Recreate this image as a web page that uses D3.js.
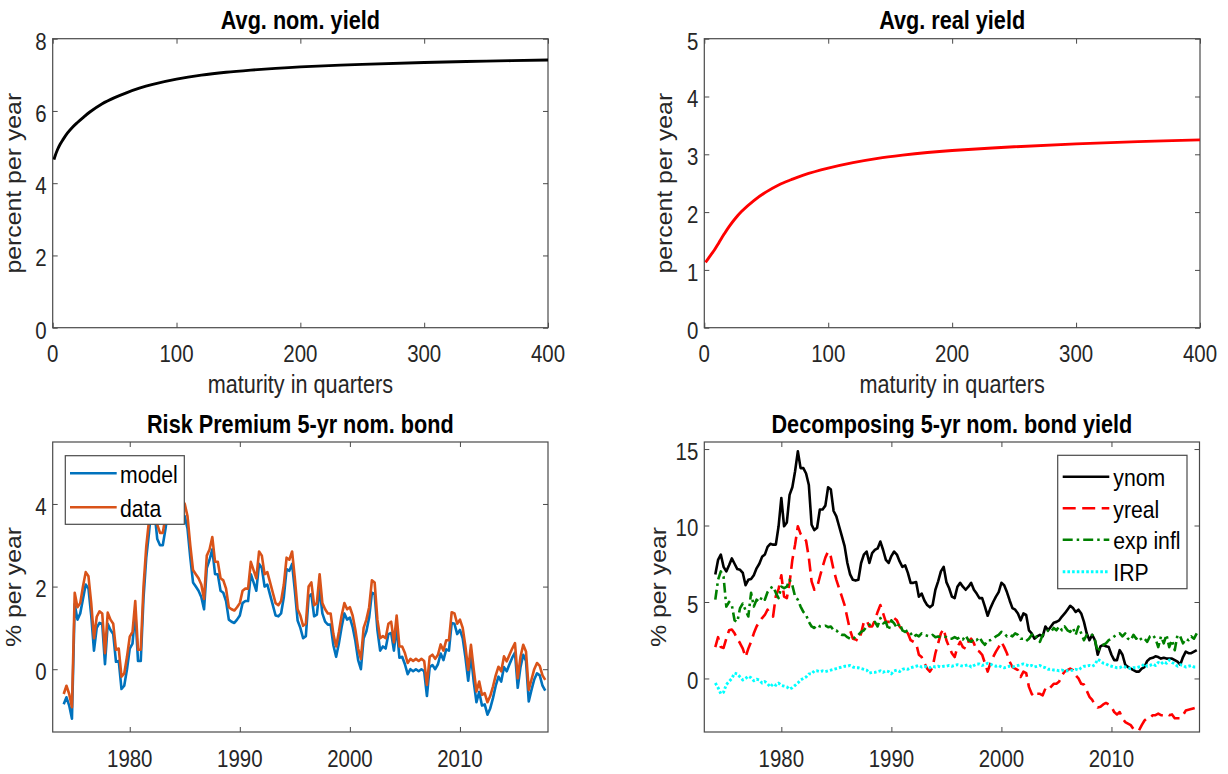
<!DOCTYPE html>
<html><head><meta charset="utf-8">
<script src="https://cdn.jsdelivr.net/npm/d3@7"></script>
<style>body{margin:0;background:#fff}svg{display:block}</style>
</head><body>
<svg id="c" width="1228" height="774"></svg>
<script>
// ---------- DATA ----------
const maturities = [1,2,4,6,8,12,16,20,25,30,40,50,60,70,80,100,120,140,160,180,200,250,300,350,400];
const avgNomYield = [4.65,4.76,4.94,5.08,5.19,5.39,5.55,5.68,5.83,5.97,6.2,6.37,6.51,6.63,6.73,6.88,6.99,7.07,7.13,7.18,7.22,7.29,7.34,7.38,7.41];
const avgRealYield = [1.13,1.16,1.22,1.28,1.34,1.48,1.62,1.75,1.89,2.01,2.2,2.35,2.47,2.56,2.64,2.76,2.855,2.93,2.985,3.03,3.065,3.13,3.18,3.22,3.25];

const startYear = 1974; // quarterly observations
const rpModel = [
-0.85,-0.68,-0.88,-1.2, 1.58,1.2,1.35,1.7, 2.05,1.95,1.3,0.45, 1.0,1.12,1.1,0.12,
1.1,0.95,0.85,0.18, 0.2,-0.48,-0.4,0.0, 0.5,0.62,1.4,0.2, 0.2,1.72,2.7,3.3,
4.0,3.8,3.15,3.0, 3.0,3.4,3.9,4.0, 3.9,3.8,3.8,3.75, 3.7,3.4,2.7,2.1,
2.0,1.9,1.75,1.45, 2.45,2.65,2.9,2.3, 2.3,1.9,1.85,1.65, 1.2,1.15,1.12,1.2,
1.3,1.6,1.65,1.65, 2.3,2.1,1.9,2.55, 2.45,2.0,2.05,1.8, 1.55,1.3,1.28,1.35,
1.75,2.42,2.38,2.55, 1.9,1.18,1.0,0.75, 0.8,1.75,1.82,1.28, 1.32,1.95,1.35,1.15,
1.08,1.08,0.58,0.3, 0.62,1.02,1.35,1.2, 1.25,1.02,0.68,0.22, 0.0,0.75,0.92,1.25,
1.85,1.82,0.95,0.45, 0.55,0.5,0.85,0.88, 0.45,1.02,0.28,0.3, 0.12,-0.12,0.0,-0.05,
0.0,-0.05,0.0,-0.05, -0.65,0.05,0.1,0.0, 0.12,0.38,0.22,0.48, 0.45,1.12,1.1,0.85,
0.95,0.75,0.28,-0.28, 0.35,-0.3,-0.8,-0.55, -0.88,-0.85,-1.1,-0.95, -0.7,-0.4,-0.18,-0.3,
0.05,-0.05,0.12,0.28, 0.4,-0.45,0.05,0.35, 0.2,-0.78,-0.5,-0.25, -0.1,-0.15,-0.4,-0.52];
const rpData = [
-0.6,-0.4,-0.6,-0.92, 1.85,1.5,1.6,2.0, 2.35,2.25,1.6,0.75, 1.27,1.4,1.35,0.39,
1.37,1.2,1.1,0.47, 0.5,-0.18,-0.1,0.3, 0.79,0.9,1.65,0.47, 0.47,2.0,2.97,3.6,
4.3,4.1,3.5,3.3, 3.3,3.7,4.2,4.3, 4.2,4.1,4.15,4.1, 4.0,3.7,3.0,2.4,
2.3,2.2,2.05,1.7, 2.75,2.9,3.2,2.6, 2.6,2.2,2.15,1.95, 1.5,1.45,1.42,1.5,
1.6,1.9,1.95,1.95, 2.6,2.4,2.2,2.85, 2.75,2.3,2.35,2.1, 1.85,1.6,1.55,1.65,
2.05,2.7,2.65,2.85, 2.2,1.45,1.3,1.05, 1.1,2.0,2.1,1.55, 1.6,2.3,1.6,1.45,
1.35,1.35,0.85,0.55, 0.9,1.3,1.6,1.45, 1.5,1.3,0.95,0.5, 0.25,1.0,1.2,1.5,
2.15,2.1,1.2,0.75, 0.8,0.75,1.1,1.15, 0.65,1.3,0.55,0.55, 0.39,0.15,0.25,0.2,
0.25,0.2,0.25,0.2, -0.38,0.3,0.35,0.25, 0.35,0.6,0.45,0.7, 0.7,1.38,1.35,1.1,
1.2,1.0,0.55,-0.02, 0.59,0.0,-0.54,-0.3, -0.62,-0.58,-0.8,-0.65, -0.42,-0.15,0.06,-0.05,
0.31,0.19,0.35,0.5, 0.63,-0.22,0.3,0.59, 0.43,-0.5,-0.25,0.0, 0.15,0.08,-0.15,-0.26];

const ynom = [
6.8,7.75,8.1,7.3, 7.0,7.4,7.85,7.5, 7.15,7.1,6.9,6.1, 6.45,6.5,6.75,7.2,
7.5,7.95,8.1,8.6, 8.8,8.75,8.75,9.95, 11.8,9.95,10.2,12.0, 12.5,13.55,14.85,13.75,
13.75,13.4,12.65,10.05, 9.7,9.85,11.05,11.05, 11.3,12.5,12.35,10.95, 10.6,9.95,9.3,8.65,
7.55,6.8,6.45,6.4, 6.45,7.55,8.1,8.3, 7.55,8.2,8.4,8.5, 8.95,8.4,7.75,7.55,
8.0,8.3,8.1,7.65, 7.3,7.4,6.9,6.25, 6.25,6.3,5.35,5.55, 5.1,4.8,4.65,4.8,
5.8,6.35,7.0,7.3, 6.3,5.9,5.35,5.25, 6.0,6.25,6.0,5.8, 6.0,6.25,5.8,5.55,
5.25,5.25,4.7,4.1, 4.6,5.0,5.35,5.65, 6.25,6.1,5.65,5.1, 4.6,4.5,4.25,3.8,
4.25,4.15,3.15,2.95, 2.6,2.75,2.85,2.75, 3.4,3.15,3.4,3.65, 3.7,3.8,4.05,4.25,
4.5,4.75,4.6,4.35, 4.5,4.25,3.7,2.95, 2.5,2.85,2.5,1.55, 2.1,2.2,2.1,2.05,
1.55,1.2,1.2,1.85, 1.55,0.9,0.75,0.65, 0.55,0.45,0.45,0.65, 0.75,1.15,1.3,1.35,
1.45,1.4,1.3,1.35, 1.3,1.3,1.3,1.2, 1.1,0.9,1.4,1.75, 1.65,1.65,1.75,1.85];
const yreal = [
2.05,2.7,2.05,2.0, 2.6,3.15,3.2,2.95, 2.6,2.3,1.95,1.4, 1.95,2.4,2.95,3.4,
3.7,3.95,4.15,4.5, 4.25,4.05,5.4,5.85, 6.75,5.35,5.25,6.25, 7.75,8.75,9.95,9.45,
9.2,9.0,7.9,6.35, 5.8,5.95,6.65,7.3, 7.9,8.3,7.95,7.1, 6.45,5.9,5.35,4.8,
3.95,3.15,2.6,2.55, 2.45,2.95,3.7,3.8, 3.4,3.4,3.8,4.35, 4.8,4.25,3.7,3.7,
3.7,3.95,3.8,3.4, 3.15,3.15,2.95,2.5, 2.4,2.3,1.55,1.4, 1.0,0.65,0.45,0.75,
1.65,2.3,2.95,3.25, 2.5,2.05,1.65,1.4, 2.05,2.4,2.05,1.95, 2.4,2.6,2.3,1.85,
1.75,1.55,1.0,0.45, 1.0,1.4,1.75,2.05, 2.4,2.05,1.65,1.1, 0.75,0.65,0.55,0.1,
0.45,0.35,-0.55,-1.0, -1.2,-1.0,-1.0,-1.1, -0.65,-0.75,-0.55,-0.35, -0.35,-0.2,0.2,0.45,
0.55,0.65,0.55,0.2, 0.0,-0.35,-0.4,-0.8, -1.2,-1.4,-1.75,-1.9, -1.85,-1.7,-1.6,-1.7,
-1.85,-2.2,-2.35,-2.2, -2.6,-2.85,-2.95,-3.05, -3.3,-3.4,-3.4,-3.05, -2.75,-2.6,-2.6,-2.4,
-2.4,-2.3,-2.4,-2.4, -2.3,-2.4,-2.35,-2.6, -2.6,-2.6,-2.4,-2.1, -2.05,-2.0,-1.95,-1.9];
const expInfl = [
5.15,6.45,7.0,6.65, 4.7,5.0,4.8,3.8, 3.7,4.6,4.9,4.45, 4.05,5.6,4.7,5.15,
5.0,5.35,5.15,5.65, 5.9,6.0,5.6,5.25, 6.0,5.9,6.0,6.45, 6.1,5.35,5.15,4.7,
4.35,4.15,3.7,3.4, 3.3,3.5,3.4,3.4, 3.45,3.35,3.4,3.15, 3.15,2.95,2.85,2.85,
2.7,2.6,2.55,2.75, 2.85,3.05,3.15,3.4, 3.5,3.6,3.7,3.4, 3.95,3.6,3.7,3.15,
3.8,3.6,3.3,3.6, 3.15,3.05,3.15,2.95, 2.7,2.85,2.75,2.95, 2.85,2.8,2.75,2.85,
2.7,2.75,2.7,2.75, 2.7,2.6,2.6,2.7, 2.6,2.7,2.55,2.8, 2.5,2.4,2.6,2.5,
2.7,2.4,2.2,2.5, 2.5,2.6,2.75,2.85, 3.05,2.95,2.75,2.85, 2.75,2.95,2.85,2.6,
2.6,2.45,2.6,2.85, 2.95,2.6,2.4,2.85, 2.95,3.15,3.05,3.3, 3.15,3.4,3.15,3.4,
3.15,3.05,3.3,2.85, 3.4,2.95,2.5,2.85, 2.75,2.85,2.5,1.75, 2.05,2.2,2.3,2.5,
2.6,2.75,2.85,2.95, 2.75,2.95,2.6,2.5, 2.85,2.6,2.75,2.5, 2.6,2.4,2.75,2.85,
2.6,2.05,2.75,2.3, 2.85,2.05,2.5,1.85, 2.85,2.75,2.3,2.6, 2.5,2.75,2.6,2.95];
const irp = [
-0.3,-0.6,-1.0,-0.9, -0.4,-0.2,0.0,0.35, 0.3,0.1,-0.1,0.0, 0.15,0.05,-0.15,-0.05,
-0.1,-0.3,-0.2,-0.35, -0.55,-0.35,-0.45,-0.3, -0.45,-0.5,-0.55,-0.7, -0.6,-0.45,-0.3,-0.1,
0.0,0.1,0.3,0.3, 0.5,0.5,0.45,0.5, 0.45,0.5,0.55,0.6, 0.65,0.7,0.75,0.8,
0.8,0.85,0.75,0.7, 0.7,0.65,0.6,0.55, 0.35,0.4,0.4,0.45, 0.5,0.4,0.5,0.45,
0.3,0.5,0.55,0.45, 0.6,0.65,0.6,0.7, 0.75,0.8,0.85,0.75, 0.8,0.75,0.7,0.8,
0.75,0.8,0.75,0.8, 0.8,0.85,0.8,0.85, 0.9,0.85,0.8,0.85, 0.9,0.75,0.85,0.95,
0.95,0.85,0.9,1.0, 0.95,0.85,0.8,0.85, 0.75,0.7,0.75,0.8, 0.75,0.8,0.85,0.9,
0.95,0.9,0.8,0.85, 0.75,0.8,0.85,0.75, 0.7,0.6,0.6,0.55, 0.55,0.5,0.55,0.5,
0.5,0.5,0.55,0.6, 0.55,0.7,0.8,0.8, 0.85,0.8,0.9,1.25, 1.15,1.0,0.95,0.85,
0.8,0.75,0.7,0.7, 0.8,0.75,0.7,0.65, 0.7,0.7,0.75,0.8, 0.95,0.8,0.85,0.95,
0.85,1.05,0.95,1.1, 1.0,1.2,1.05,0.95, 0.8,0.9,0.85,0.75, 0.8,0.85,0.75,0.75];

const maturityTicks = [0,100,200,300,400];
const nomYieldTicks = [0,2,4,6,8];
const realYieldTicks = [0,1,2,3,4,5];
const yearTicks = [1980,1990,2000,2010];
const rpTicks = [0,2,4];
const decompTicks = [0,5,10,15];

// ---------- DRAWING ----------
const svg = d3.select('#c');
const K = 1.15, SX = 1 / K;
const FONT = "'Liberation Sans', Arial, Helvetica, sans-serif";
const AX = '#262626';
const BOX = '#4a4a4a';
let clipN = 0;

function txt(g, x, y, s, o = {}) {
  let tr = `translate(${x},${y})`;
  if (o.rotate) tr += ` rotate(${o.rotate}) scale(${K},1)`;
  else tr += ` scale(${SX},1)`;
  return g.append('text').attr('transform', tr)
    .attr('text-anchor', o.anchor || 'middle')
    .style('font-family', FONT)
    .style('font-size', (o.size || 23.5) + 'px')
    .style('font-weight', o.weight || 'normal')
    .attr('fill', o.fill || AX).text(s);
}

function panel(p) {
  const x = d3.scaleLinear().domain(p.xDomain).range([p.l, p.r]);
  const y = d3.scaleLinear().domain(p.yDomain).range([p.b, p.t]);
  const g = svg.append('g');
  const mk = (axis, tr) => {
    const a = g.append('g').attr('transform', tr)
      .call(axis.tickSizeInner(-5).tickSizeOuter(0).tickFormat(''));
    a.select('.domain').remove();
    a.selectAll('.tick line').attr('stroke', BOX).attr('stroke-width', 1);
  };
  mk(d3.axisBottom(x).tickValues(p.xTicks), `translate(0,${p.b})`);
  mk(d3.axisTop(x).tickValues(p.xTicks), `translate(0,${p.t})`);
  mk(d3.axisLeft(y).tickValues(p.yTicks), `translate(${p.l},0)`);
  mk(d3.axisRight(y).tickValues(p.yTicks), `translate(${p.r},0)`);
  g.append('rect').attr('x', p.l).attr('y', p.t)
    .attr('width', p.r - p.l).attr('height', p.b - p.t)
    .attr('fill', 'none').attr('stroke', BOX).attr('stroke-width', 1.2);
  p.xTicks.forEach(v => txt(g, x(v), p.b + 34.5, String(v)));
  p.yTicks.forEach(v => txt(g, p.l - 6, y(v) + 10.9, String(v), {anchor: 'end'}));
  txt(g, (p.l + p.r) / 2, p.t - 9.5, p.title, {size: 24.9, weight: 'bold', fill: '#000'});
  if (p.xlabel) txt(g, (p.l + p.r) / 2, p.b + 65.5, p.xlabel, {size: 24.9});
  txt(g, p.ylabelX, (p.t + p.b) / 2, p.ylabel, {rotate: -90, size: 21.6});
  const id = 'clip' + (clipN++);
  svg.append('clipPath').attr('id', id).append('rect')
    .attr('x', p.l).attr('y', p.t).attr('width', p.r - p.l).attr('height', p.b - p.t);
  const plot = g.append('g').attr('clip-path', `url(#${id})`);
  return {x, y, g, plot};
}

function drawLine(P, xs, ys, st, curve) {
  const line = d3.line().x((d, i) => P.x(xs[i])).y(d => P.y(d));
  if (curve) line.curve(curve);
  P.plot.append('path').datum(ys).attr('d', line)
    .attr('fill', 'none').attr('stroke', st.color).attr('stroke-width', st.w || 2.6)
    .attr('stroke-dasharray', st.dash || null).attr('stroke-linejoin', 'round');
}

function legend(g, box, items, lx0, lx1, tx, ys) {
  g.append('rect').attr('x', box[0]).attr('y', box[1]).attr('width', box[2]).attr('height', box[3])
    .attr('fill', '#fff').attr('stroke', BOX).attr('stroke-width', 1.2);
  items.forEach((it, i) => {
    g.append('line').attr('x1', lx0).attr('x2', lx1).attr('y1', ys[i]).attr('y2', ys[i])
      .attr('stroke', it.color).attr('stroke-width', it.w || 2.6).attr('stroke-dasharray', it.dash || null);
    txt(g, tx, ys[i] + 9.5, it.name, {anchor: 'start', size: 24.4, fill: '#000'});
  });
}

// Panel 1: Avg. nom. yield
const P1 = panel({l: 52.7, r: 548, t: 38.7, b: 327.7, xDomain: [0, 400], yDomain: [0, 8],
  xTicks: maturityTicks, yTicks: nomYieldTicks, title: 'Avg. nom. yield',
  xlabel: 'maturity in quarters', ylabel: 'percent per year', ylabelX: 20.5});
drawLine(P1, maturities, avgNomYield, {color: '#000', w: 2.9}, d3.curveCatmullRom);

// Panel 2: Avg. real yield
const P2 = panel({l: 704.3, r: 1200, t: 38.7, b: 327.7, xDomain: [0, 400], yDomain: [0, 5],
  xTicks: maturityTicks, yTicks: realYieldTicks, title: 'Avg. real yield',
  xlabel: 'maturity in quarters', ylabel: 'percent per year', ylabelX: 672});
drawLine(P2, maturities, avgRealYield, {color: '#ff0000', w: 2.9}, d3.curveCatmullRom);

// Panel 3: Risk premium
const dates = rpData.map((d, i) => startYear + i / 4);
const P3 = panel({l: 52.7, r: 548, t: 442, b: 732, xDomain: [1973, 2018], yDomain: [-1.52, 5.5],
  xTicks: yearTicks, yTicks: rpTicks, title: 'Risk Premium 5-yr nom. bond',
  ylabel: '% per year', ylabelX: 20.5});
drawLine(P3, dates, rpModel, {color: '#0072BD'});
drawLine(P3, dates, rpData, {color: '#D95319'});
legend(P3.g, [65.3, 455.7, 119, 68.6],
  [{name: 'model', color: '#0072BD'}, {name: 'data', color: '#D95319'}],
  70, 116.7, 120, [473.3, 507.3]);

// Panel 4: Decomposition
const dates4 = ynom.map((d, i) => startYear + i / 4);
const P4 = panel({l: 704.3, r: 1199.5, t: 442, b: 732, xDomain: [1973, 2018], yDomain: [-3.5, 15.46],
  xTicks: yearTicks, yTicks: decompTicks, title: 'Decomposing 5-yr nom. bond yield',
  ylabel: '% per year', ylabelX: 665.5});
const st = {
  ynom: {name: 'ynom', color: '#000'},
  yreal: {name: 'yreal', color: '#ff0000', dash: '13,6.5'},
  exp: {name: 'exp infl', color: '#008000', dash: '10,4,2.5,4'},
  irp: {name: 'IRP', color: '#00ffff', dash: '2.6,2.1', w: 2.9}
};
drawLine(P4, dates4, ynom, st.ynom);
drawLine(P4, dates4, yreal, st.yreal);
drawLine(P4, dates4, expInfl, st.exp);
drawLine(P4, dates4, irp, st.irp);
legend(P4.g, [1057.7, 455.3, 129.3, 133.4], [st.ynom, st.yreal, st.exp, st.irp],
  1062.7, 1109.3, 1113.3, [476.7, 508.3, 539.8, 571.7]);
</script>
</body></html>
